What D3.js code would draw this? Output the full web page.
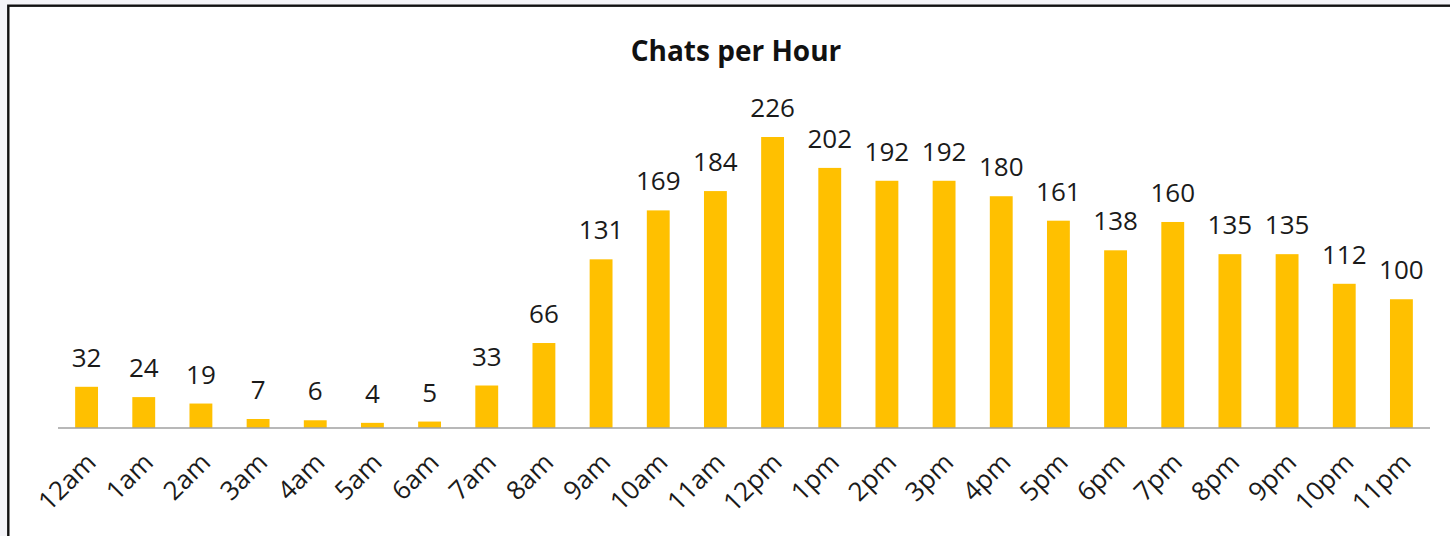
<!DOCTYPE html>
<html>
<head>
<meta charset="utf-8">
<script src="https://cdn.jsdelivr.net/npm/d3@7"></script>
<style>
  html, body { margin: 0; padding: 0; background: #f4f4f8; }
  svg { display: block; }
</style>
</head>
<body>
<div id="chart"></div>
<script>
// chart data
const hours = ["12am", "1am", "2am", "3am", "4am", "5am", "6am", "7am", "8am", "9am", "10am", "11am",
  "12pm", "1pm", "2pm", "3pm", "4pm", "5pm", "6pm", "7pm", "8pm", "9pm", "10pm", "11pm"]
const chats = [32, 24, 19, 7, 6, 4, 5, 33, 66, 131, 169, 184, 226, 202, 192, 192, 180, 161, 138, 160, 135, 135, 112, 100]
const chartTitle = "Chats per Hour"

const width = 1450
const height = 536
const margin = { top: 137, right: 20, bottom: 108, left: 58 }

const svg = d3.select("#chart").append("svg")
  .attr("width", width)
  .attr("height", height)

// white chart box with dark frame (runs off right and bottom edges)
svg.append("rect")
  .attr("x", 8.3)
  .attr("y", 5.7)
  .attr("width", width + 20)
  .attr("height", height + 20)
  .attr("fill", "#fff")
  .attr("stroke", "#111")
  .attr("stroke-width", 2.4)

const x = d3.scaleBand()
  .domain(hours)
  .range([margin.left, width - margin.right])
  .paddingInner(0.6)
  .paddingOuter(0.3)

const y = d3.scaleLinear()
  .domain([0, d3.max(chats)])
  .range([height - margin.bottom, margin.top])

const data = hours.map((h, i) => ({ hour: h, value: chats[i] }))

svg.append("text")
  .attr("x", 736)
  .attr("y", 61)
  .attr("text-anchor", "middle")
  .attr("font-family", "Open Sans, sans-serif")
  .attr("font-weight", "bold")
  .attr("font-size", 28)
  .attr("fill", "#111")
  .text(chartTitle)

svg.append("g").selectAll("rect")
  .data(data)
  .join("rect")
  .attr("x", d => x(d.hour))
  .attr("y", d => y(d.value))
  .attr("width", x.bandwidth())
  .attr("height", d => y(0) - y(d.value))
  .attr("fill", "#ffc000")

// data labels
svg.append("g").selectAll("text")
  .data(data)
  .join("text")
  .attr("x", d => x(d.hour) + x.bandwidth() / 2)
  .attr("y", d => y(d.value) - 20)
  .attr("text-anchor", "middle")
  .attr("font-family", "Open Sans, sans-serif")
  .attr("font-size", 26)
  .attr("fill", "#1a1a1a")
  .text(d => d.value)

// x axis
const xAxis = svg.append("g")
  .attr("transform", `translate(0,${y(0)})`)
  .call(d3.axisBottom(x).tickSize(0).tickPadding(0))

xAxis.select(".domain")
  .attr("stroke", "#a0a0a0")
  .attr("stroke-width", 1.5)
  .attr("d", `M${margin.left},0H${width - margin.right}`)

xAxis.selectAll(".tick text")
  .attr("font-family", "Open Sans, sans-serif")
  .attr("font-size", 26)
  .attr("fill", "#1a1a1a")
  .attr("text-anchor", "end")
  .attr("dy", null)
  .attr("y", 0)
  .attr("transform", "translate(11,36) rotate(-45)")
</script>
</body>
</html>
